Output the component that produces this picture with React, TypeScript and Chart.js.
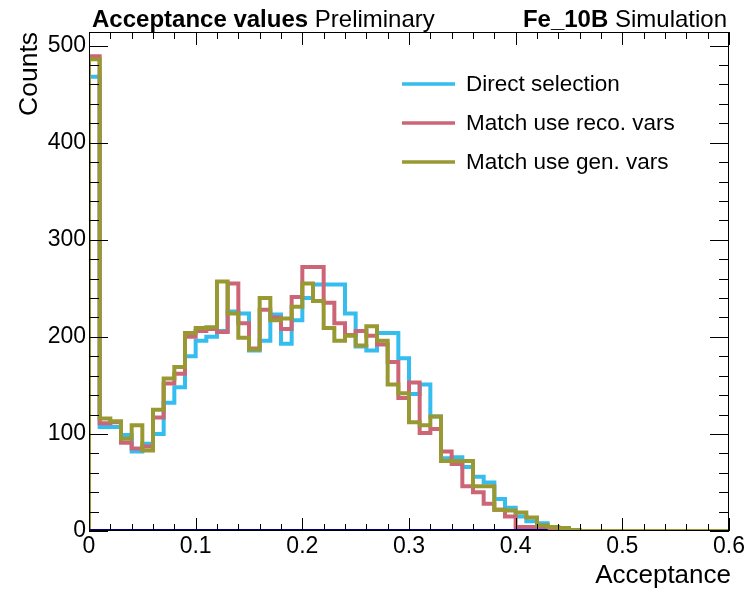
import React, { useEffect, useRef } from "react";
import { Chart, registerables } from "chart.js";

Chart.register(...registerables);

// Bin left edges (width 0.01), 60 bins from 0 to 0.6
const binEdges = [
  0.0, 0.01, 0.02, 0.03, 0.04, 0.05, 0.06, 0.07, 0.08, 0.09,
  0.1, 0.11, 0.12, 0.13, 0.14, 0.15, 0.16, 0.17, 0.18, 0.19,
  0.2, 0.21, 0.22, 0.23, 0.24, 0.25, 0.26, 0.27, 0.28, 0.29,
  0.3, 0.31, 0.32, 0.33, 0.34, 0.35, 0.36, 0.37, 0.38, 0.39,
  0.4, 0.41, 0.42, 0.43, 0.44, 0.45, 0.46, 0.47, 0.48, 0.49,
  0.5, 0.51, 0.52, 0.53, 0.54, 0.55, 0.56, 0.57, 0.58, 0.59,
];
const xEnd = 0.6;

const directSelection = [
  468, 107, 107, 99, 82, 90, 100, 132, 148, 180,
  196, 200, 206, 226, 224, 186, 196, 223, 193, 217,
  240, 254, 254, 254, 224, 190, 186, 204, 204, 178,
  141, 151, 118, 75, 76, 66, 56, 50, 33, 24,
  15, 10, 8, 3, 1, 0, 0, 0, 0, 0,
  0, 0, 0, 0, 0, 0, 0, 0, 0, 0,
];
const matchReco = [
  489, 111, 112, 91, 85, 87, 117, 152, 162, 200,
  206, 208, 205, 255, 214, 188, 228, 220, 208, 241,
  272, 272, 235, 214, 202, 206, 201, 192, 174, 137,
  153, 101, 105, 82, 69, 46, 40, 28, 22, 15,
  4, 4, 3, 1, 0, 0, 0, 0, 0, 0,
  0, 0, 0, 0, 0, 0, 0, 0, 0, 0,
];
const matchGen = [
  486, 116, 113, 95, 109, 83, 125, 157, 169, 204,
  209, 210, 257, 224, 199, 187, 240, 217, 219, 231,
  255, 237, 209, 196, 201, 191, 211, 196, 151, 142,
  112, 109, 118, 72, 72, 72, 46, 46, 22, 21,
  19, 14, 6, 4, 3, 1, 0, 0, 0, 0,
  0, 0, 0, 0, 0, 0, 0, 0, 0, 0,
];
// Empty baseline histogram drawn in navy
const baselineEdges = [0.0, 0.43];
const baselineValues = [0, 0];

const seriesNames = ["Direct selection", "Match use reco. vars", "Match use gen. vars"];
const seriesColors = ["#35BDEF", "#CC6677", "#999933"];

const xTickValues = [0, 0.1, 0.2, 0.3, 0.4, 0.5, 0.6];
const xTickLabels = ["0", "0.1", "0.2", "0.3", "0.4", "0.5", "0.6"];
const yTickValues = [0, 100, 200, 300, 400, 500];
const yTickLabels = ["0", "100", "200", "300", "400", "500"];
const yMax = 514;

const FONT = "'Liberation Sans', Arial, Helvetica, sans-serif";

function histPoints(edges: number[], values: number[], end: number) {
  const pts: { x: number; y: number }[] = [{ x: edges[0], y: 0 }];
  for (let i = 0; i < edges.length; i++) pts.push({ x: edges[i], y: values[i] });
  pts.push({ x: end, y: values[values.length - 1] });
  return pts;
}

const decorPlugin = {
  id: "rootDecor",
  afterDraw(chart: any) {
    const { ctx, chartArea, scales } = chart;
    const { left, right, top, bottom } = chartArea;
    const xs = scales.x;
    const ys = scales.y;
    ctx.save();
    ctx.strokeStyle = "#000";
    ctx.fillStyle = "#000";
    ctx.lineWidth = 1;

    // frame
    ctx.strokeRect(Math.round(left) + 0.5, Math.round(top) + 0.5, Math.round(right - left) - 1, Math.round(bottom - top) - 1);

    // x ticks (bottom and top)
    ctx.beginPath();
    for (let k = 0; k <= 30; k++) {
      const v = k * 0.02;
      const px = Math.round(xs.getPixelForValue(v)) + 0.5;
      const len = k % 5 === 0 ? 13 : 7;
      ctx.moveTo(px, bottom);
      ctx.lineTo(px, bottom - len);
      ctx.moveTo(px, top);
      ctx.lineTo(px, top + len);
    }
    // y ticks (left and right)
    for (let k = 0; k * 20 <= yMax; k++) {
      const v = k * 20;
      const py = Math.round(ys.getPixelForValue(v)) + 0.5;
      const len = k % 5 === 0 ? 19 : 10;
      ctx.moveTo(left, py);
      ctx.lineTo(left + len, py);
      ctx.moveTo(right, py);
      ctx.lineTo(right - len, py);
    }
    ctx.stroke();

    // axis titles
    ctx.font = `26px ${FONT}`;
    ctx.textAlign = "right";
    ctx.textBaseline = "alphabetic";
    ctx.fillText("Acceptance", right + 2, 583);
    ctx.save();
    ctx.translate(37, top);
    ctx.rotate(-Math.PI / 2);
    ctx.textAlign = "right";
    ctx.font = `26.5px ${FONT}`;
    ctx.fillText("Counts", 0, 0);
    ctx.restore();

    // header
    ctx.textAlign = "left";
    ctx.font = `bold 24px ${FONT}`;
    const b1 = "Acceptance values";
    ctx.fillText(b1, 92, 27);
    const w1 = ctx.measureText(b1 + " ").width;
    ctx.font = `24px ${FONT}`;
    ctx.fillText("Preliminary", 92 + w1, 27);

    const b2 = "Fe_10B";
    const r2 = " Simulation";
    ctx.font = `24px ${FONT}`;
    const wr = ctx.measureText(r2).width;
    ctx.font = `bold 24px ${FONT}`;
    const wb = ctx.measureText(b2).width;
    const x0 = 727 - wr - wb;
    ctx.fillText(b2, x0, 27);
    ctx.font = `24px ${FONT}`;
    ctx.fillText(r2, x0 + wb, 27);

    // legend
    const legendY = [84, 123, 162];
    ctx.font = `22.5px ${FONT}`;
    ctx.textBaseline = "middle";
    for (let i = 0; i < seriesNames.length; i++) {
      ctx.strokeStyle = seriesColors[i];
      ctx.lineWidth = 3.5;
      ctx.beginPath();
      ctx.moveTo(402, legendY[i]);
      ctx.lineTo(455, legendY[i]);
      ctx.stroke();
      ctx.fillStyle = "#000";
      ctx.fillText(seriesNames[i], 466, legendY[i] + 1);
    }
    ctx.restore();
  },
};

export default function App() {
  const ref = useRef<HTMLCanvasElement | null>(null);

  useEffect(() => {
    if (!ref.current) return;
    const series = [directSelection, matchReco, matchGen];
    const datasets: any[] = series.map((vals, i) => ({
      label: seriesNames[i],
      data: histPoints(binEdges, vals, xEnd),
      borderColor: seriesColors[i],
      backgroundColor: seriesColors[i],
      borderWidth: 4,
      stepped: "before",
      pointRadius: 0,
      fill: false,
      order: 3 - i,
    }));
    datasets.push({
      label: "baseline",
      data: baselineEdges.map((x, i) => ({ x, y: baselineValues[i] })),
      borderColor: "#000080",
      borderWidth: 4,
      pointRadius: 0,
      fill: false,
      order: 0,
    });

    const chart = new Chart(ref.current, {
      type: "line",
      data: { datasets },
      options: {
        responsive: false,
        animation: false,
        layout: { padding: { top: 32, right: 18, left: 0, bottom: 0 } },
        plugins: { legend: { display: false }, tooltip: { enabled: false }, title: { display: false } },
        scales: {
          x: {
            type: "linear",
            min: 0,
            max: xEnd,
            grid: { display: false, drawTicks: false },
            border: { display: false },
            ticks: {
              color: "#000",
              font: { family: FONT, size: 23 },
              padding: 2,
              maxRotation: 0,
              autoSkip: false,
              callback: (v: any) => {
                const idx = xTickValues.findIndex((t) => Math.abs(t - Number(v)) < 1e-9);
                return idx >= 0 ? xTickLabels[idx] : "";
              },
            },
            afterBuildTicks: (s: any) => {
              s.ticks = xTickValues.map((value) => ({ value }));
            },
            afterFit: (s: any) => {
              s.height = 58;
            },
          },
          y: {
            type: "linear",
            min: 0,
            max: yMax,
            grid: { display: false, drawTicks: false },
            border: { display: false },
            ticks: {
              color: "#000",
              font: { family: FONT, size: 23 },
              padding: 3,
              autoSkip: false,
              callback: (v: any) => {
                const idx = yTickValues.findIndex((t) => Math.abs(t - Number(v)) < 1e-9);
                return idx >= 0 ? yTickLabels[idx] : "";
              },
            },
            afterBuildTicks: (s: any) => {
              s.ticks = yTickValues.map((value) => ({ value }));
            },
            afterFit: (s: any) => {
              s.width = 89;
            },
          },
        },
      },
      plugins: [decorPlugin],
    });
    return () => chart.destroy();
  }, []);

  return (
    <div style={{ position: "absolute", left: 0, top: 0, width: 747, height: 589, background: "#fff" }}>
      <canvas ref={ref} width={747} height={589} />
    </div>
  );
}
